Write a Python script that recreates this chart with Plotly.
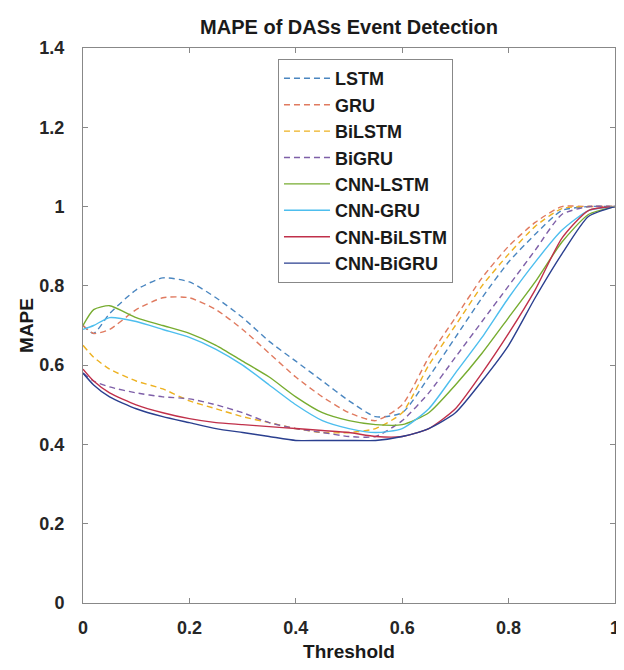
import plotly.graph_objects as go

threshold = [0, 0.02, 0.05, 0.1, 0.15, 0.2, 0.25, 0.3, 0.35, 0.4, 0.45, 0.5, 0.55, 0.6, 0.65, 0.7, 0.75, 0.8, 0.85, 0.9, 0.95, 1.0]

lstm = [0.70, 0.68, 0.73, 0.79, 0.82, 0.81, 0.77, 0.72, 0.66, 0.61, 0.56, 0.51, 0.47, 0.48, 0.57, 0.67, 0.77, 0.86, 0.93, 0.99, 1.0, 1.0]
gru = [0.70, 0.68, 0.69, 0.74, 0.77, 0.77, 0.74, 0.69, 0.63, 0.57, 0.52, 0.48, 0.46, 0.50, 0.62, 0.72, 0.82, 0.90, 0.96, 1.0, 1.0, 1.0]
bilstm = [0.65, 0.62, 0.59, 0.56, 0.54, 0.51, 0.49, 0.47, 0.455, 0.44, 0.43, 0.43, 0.44, 0.48, 0.60, 0.70, 0.80, 0.88, 0.95, 0.995, 1.0, 1.0]
bigru = [0.58, 0.56, 0.545, 0.53, 0.52, 0.515, 0.50, 0.48, 0.455, 0.44, 0.43, 0.42, 0.42, 0.46, 0.53, 0.62, 0.71, 0.80, 0.89, 0.98, 1.0, 1.0]
cnn_lstm = [0.70, 0.74, 0.75, 0.72, 0.70, 0.68, 0.65, 0.61, 0.57, 0.52, 0.48, 0.46, 0.45, 0.45, 0.48, 0.55, 0.63, 0.72, 0.81, 0.91, 0.98, 1.0]
cnn_gru = [0.69, 0.70, 0.72, 0.71, 0.69, 0.67, 0.64, 0.60, 0.55, 0.50, 0.46, 0.44, 0.43, 0.44, 0.49, 0.58, 0.67, 0.77, 0.86, 0.94, 0.99, 1.0]
cnn_bilstm = [0.59, 0.56, 0.53, 0.50, 0.48, 0.465, 0.455, 0.45, 0.445, 0.44, 0.435, 0.43, 0.42, 0.42, 0.44, 0.49, 0.58, 0.68, 0.79, 0.92, 0.99, 1.0]
cnn_bigru = [0.58, 0.55, 0.52, 0.49, 0.47, 0.455, 0.44, 0.43, 0.42, 0.41, 0.41, 0.41, 0.41, 0.42, 0.44, 0.48, 0.56, 0.65, 0.77, 0.88, 0.975, 1.0]

series = [
    ("LSTM", lstm, "#4a86c0", "6px,4px"),
    ("GRU", gru, "#e07a5f", "6px,4px"),
    ("BiLSTM", bilstm, "#edb120", "6px,4px"),
    ("BiGRU", bigru, "#7e5fa8", "6px,4px"),
    ("CNN-LSTM", cnn_lstm, "#77ac30", "solid"),
    ("CNN-GRU", cnn_gru, "#4dbeee", "solid"),
    ("CNN-BiLSTM", cnn_bilstm, "#c0304a", "solid"),
    ("CNN-BiGRU", cnn_bigru, "#2a3f8f", "solid"),
]

x_ticks = [0, 0.2, 0.4, 0.6, 0.8, 1]
x_labels = ["0", "0.2", "0.4", "0.6", "0.8", "1"]
y_ticks = [0, 0.2, 0.4, 0.6, 0.8, 1, 1.2, 1.4]
y_labels = ["0", "0.2", "0.4", "0.6", "0.8", "1", "1.2", "1.4"]

fig = go.Figure()
for name, vals, color, dash in series:
    fig.add_trace(go.Scatter(
        x=threshold, y=vals, name="<b>%s</b>" % name, mode="lines",
        line=dict(color=color, width=1.4, dash=dash, shape="spline", smoothing=0.6),
    ))

font_family = "Liberation Sans, Arial, sans-serif"
W, H = 616, 654
fig.update_layout(
    width=W, height=H,
    margin=dict(l=75, r=9, t=40, b=59, autoexpand=False),
    paper_bgcolor="white", plot_bgcolor="white",
    font=dict(family=font_family, color="#262626"),
    title=dict(text="<b>MAPE of DASs Event Detection</b>", x=0.5, xref="paper",
               y=1 - 19 / H, yref="container", yanchor="middle", automargin=False,
               font=dict(size=20, color="#1a1a1a")),
    showlegend=True,
    legend=dict(x=0.3665, y=0.980, xanchor="left", yanchor="top",
                bordercolor="#888888", borderwidth=1, bgcolor="white",
                font=dict(size=18, color="#1a1a1a", family=font_family),
                tracegroupgap=0, itemwidth=46),
)
fig.update_xaxes(
    range=[0, 1], tickvals=x_ticks, ticktext=["<b>%s</b>" % t for t in x_labels],
    ticks="inside", ticklen=5, tickcolor="#888888", automargin=False,
    showline=True, linecolor="#888888", linewidth=1, mirror="ticks",
    showgrid=False, zeroline=False, ticklabelstandoff=8,
    tickfont=dict(size=18, color="#262626"),
    title=dict(text="<b>Threshold</b>", font=dict(size=19, color="#1a1a1a"), standoff=9),
)
fig.update_yaxes(
    range=[0, 1.4], tickvals=y_ticks, ticktext=["<b>%s</b>" % t for t in y_labels],
    ticks="inside", ticklen=5, tickcolor="#888888", automargin=False,
    showline=True, linecolor="#888888", linewidth=1, mirror="ticks",
    showgrid=False, zeroline=False, ticklabelstandoff=14,
    tickfont=dict(size=18, color="#262626"),
    title=dict(text="<b>MAPE</b>", font=dict(size=19, color="#1a1a1a"), standoff=0),
)

fig.write_html("out.html")
